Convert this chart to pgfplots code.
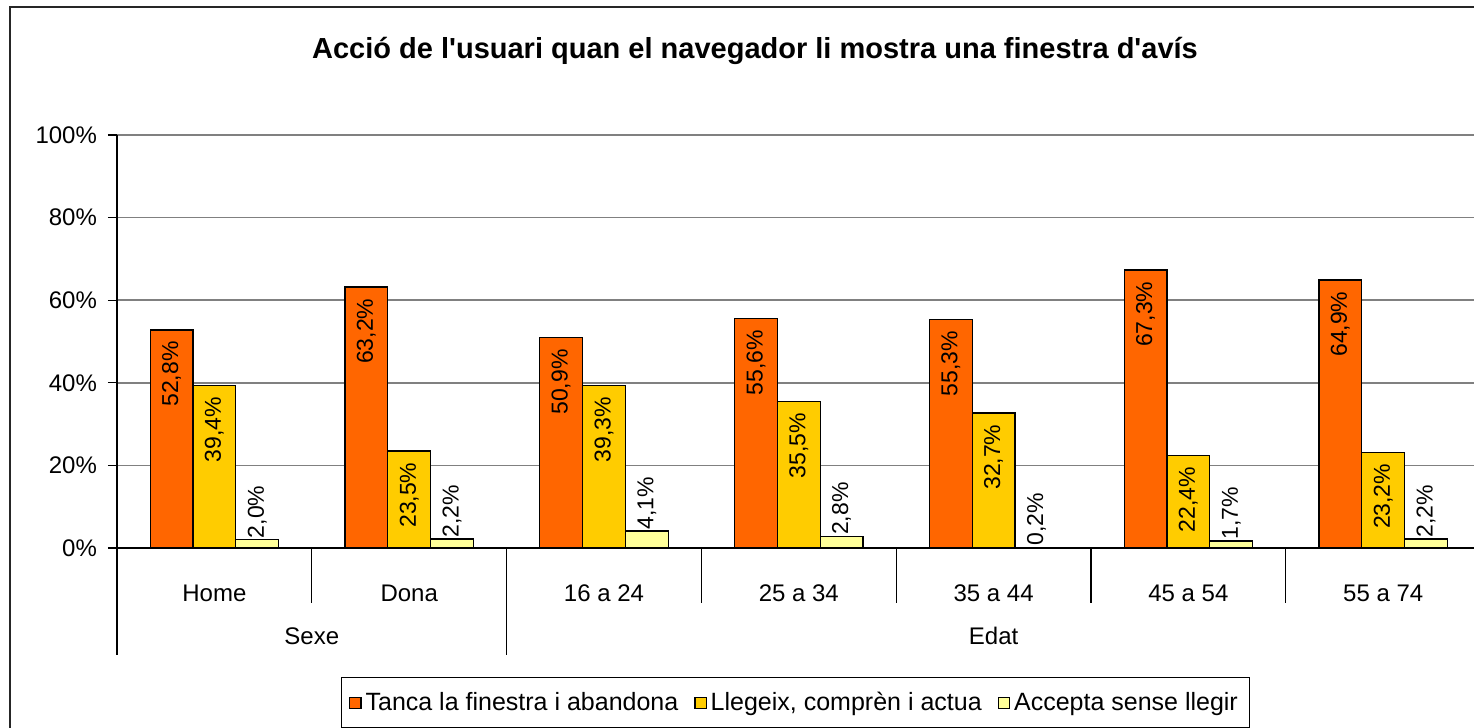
\documentclass[border=0pt]{standalone}
\usepackage{pgfplots}
\pgfplotsset{compat=1.18}
\usepackage{fontspec}
\setmainfont{Liberation Sans}
\definecolor{cOr}{HTML}{FF6600}
\definecolor{cYe}{HTML}{FFCC00}
\definecolor{cLy}{HTML}{FFFF99}
\newcommand{\lbl}{\fontsize{11.5}{13}\selectfont}
\newcommand{\tkl}{\fontsize{12}{14}\selectfont}
\begin{document}
\begin{tikzpicture}
\useasboundingbox (-58.5pt,-90pt) rectangle (678.5pt,274pt);
\draw[line width=1pt, black!85] (-53.5pt,270.5pt) rectangle (700pt,-110pt);
\node[font=\bfseries\fontsize{14.5}{16}\selectfont] at (319pt,248.5pt) {Acció de l\textquotesingle usuari quan el navegador li mostra una finestra d\textquotesingle avís};
\begin{axis}[
  at={(0pt,0pt)}, anchor=south west, scale only axis,
  width=681.8pt, height=206.5pt,
  xmin=-0.5, xmax=6.5, ymin=0, ymax=100,
  clip=false,
  axis x line*=bottom, axis y line*=left,
  axis line style={-, line width=0.6pt, black},
  ytick={0,20,...,100}, yticklabels={0\%,20\%,40\%,60\%,80\%,100\%},
  ymajorgrids, grid style={line width=0.8pt, black!50},
  tick align=outside, major tick length=4.5pt,
  ytick style={black, line width=0.6pt},
  yticklabel style={xshift=-2pt},
  xtick={0,...,6}, xticklabels={Home,Dona,16 a 24,25 a 34,35 a 44,45 a 54,55 a 74},
  xtick style={draw=none},
  xticklabel style={anchor=center, yshift=-18pt},
  ticklabel style={font=\tkl},
  /pgf/number format/assume math mode=true,
  ybar=0pt, bar width=0.22,
  legend style={at={(0.4976,-0.374)}, anchor=center, legend columns=3,
    draw=black, line width=0.6pt, font=\fontsize{12.5}{14}\selectfont, inner xsep=4pt, inner ysep=5pt,
    /tikz/every even column/.append style={column sep=6pt}},
  legend image code/.code={\draw[#1,/tikz/.cd,yshift=-0.3em] (0em,0em) rectangle (0.56em,0.56em);},
]
\addplot[fill=cOr, draw=black, line width=0.6pt,
  nodes near coords={\pgfmathprintnumber[fixed,fixed zerofill,precision=1,use comma]{\pgfplotspointmeta}\%},
  nodes near coords style={rotate=90, anchor=east, font=\lbl, inner xsep=5.5pt, black}]
  coordinates {(0,52.8) (1,63.2) (2,50.9) (3,55.6) (4,55.3) (5,67.3) (6,64.9)};
\addplot[fill=cYe, draw=black, line width=0.6pt,
  nodes near coords={\pgfmathprintnumber[fixed,fixed zerofill,precision=1,use comma]{\pgfplotspointmeta}\%},
  nodes near coords style={rotate=90, anchor=east, font=\lbl, inner xsep=5.5pt, black}]
  coordinates {(0,39.4) (1,23.5) (2,39.3) (3,35.5) (4,32.7) (5,22.4) (6,23.2)};
\addplot[fill=cLy, draw=black, line width=0.6pt,
  nodes near coords={\pgfmathprintnumber[fixed,fixed zerofill,precision=1,use comma]{\pgfplotspointmeta}\%},
  nodes near coords style={rotate=90, anchor=west, font=\lbl, inner xsep=0.5pt, black}]
  coordinates {(0,2.0) (1,2.2) (2,4.1) (3,2.8) (4,0.2) (5,1.7) (6,2.2)};
\addlegendentry{Tanca la finestra i abandona}
\addlegendentry{Llegeix, comprèn i actua}
\addlegendentry{Accepta sense llegir}
% category separators
\draw[line width=0.6pt] (axis cs:-0.5,0) -- ++(0pt,-53.5pt);
\draw[line width=0.6pt] (axis cs:1.5,0) -- ++(0pt,-53.5pt);
\draw[line width=0.6pt] (axis cs:6.5,0) -- ++(0pt,-53.5pt);
\draw[line width=0.6pt] (axis cs:0.5,0) -- ++(0pt,-27.5pt);
\draw[line width=0.6pt] (axis cs:2.5,0) -- ++(0pt,-27.5pt);
\draw[line width=0.6pt] (axis cs:3.5,0) -- ++(0pt,-27.5pt);
\draw[line width=0.6pt] (axis cs:4.5,0) -- ++(0pt,-27.5pt);
\draw[line width=0.6pt] (axis cs:5.5,0) -- ++(0pt,-27.5pt);
\node[font=\tkl] at ([yshift=-44pt]axis cs:0.5,0) {Sexe};
\node[font=\tkl] at ([yshift=-44pt]axis cs:4,0) {Edat};
\end{axis}
\end{tikzpicture}
\end{document}
